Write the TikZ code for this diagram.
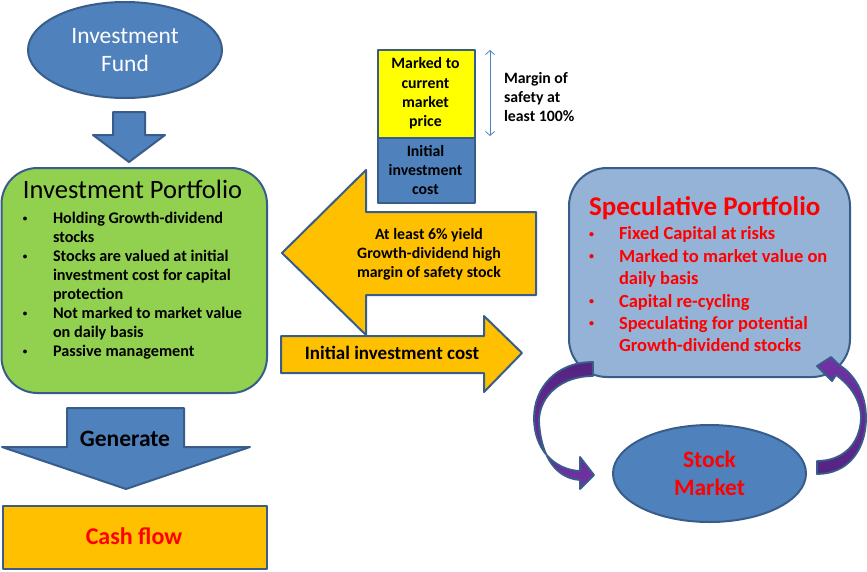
\documentclass[tikz,border=0pt]{standalone}
\usepackage{fontspec}
\setmainfont{Carlito}
\usetikzlibrary{shapes.geometric,arrows.meta}
\definecolor{bblue}{RGB}{79,129,189}
\definecolor{bord}{RGB}{56,93,138}
\definecolor{bgreen}{RGB}{146,208,80}
\definecolor{borange}{RGB}{255,192,0}
\definecolor{bspec}{RGB}{149,179,215}
\definecolor{byellow}{RGB}{255,255,0}
\definecolor{bred}{RGB}{255,0,0}
\definecolor{pdark}{RGB}{84,36,128}
\definecolor{plight}{RGB}{114,50,165}
\newcommand{\gbul}{\makebox[31pt][l]{\hspace{1pt}\raisebox{2.2pt}{\fontsize{9}{9}\selectfont\textbullet}}}
\newcommand{\gind}{\hspace*{31pt}}
\newcommand{\sbul}{\makebox[31pt][l]{\hspace{1pt}\raisebox{2.6pt}{\fontsize{10}{10}\selectfont\textbullet}}}
\newcommand{\sind}{\hspace*{31pt}}
\begin{document}
\begin{tikzpicture}[x=1pt,y=-1pt,
  shp/.style={draw=bord, line width=2pt, line join=round},
  txt/.style={inner sep=0pt, outer sep=0pt},
  small/.style={font=\fontsize{15.8}{19}\selectfont\bfseries}]
\useasboundingbox (0,0) rectangle (867,571);

% Investment Fund
\node[shp, ellipse, fill=bblue, minimum width=194pt, minimum height=96pt, inner sep=0pt,
  text=white, align=center, font=\fontsize{23.5}{28.7}\selectfont] (fund) at (125,50) {Investment\\Fund};

% down arrow
\draw[shp, fill=bblue] (113,112) -- (145,112) -- (145,135) -- (165,135) -- (129,162) -- (93,135) -- (113,135) -- cycle;

% Investment Portfolio box
\draw[shp, fill=bgreen, rounded corners=36pt] (1.5,168) rectangle (267,393);
\node[txt, anchor=base west, font=\fontsize{26.5}{30}\selectfont] (iptitle) at (23,198) {Investment Portfolio};
\node[txt, anchor=north west, align=left, font=\fontsize{16.2}{19}\selectfont\bfseries] (iplist) at (22,212.5) {%
\gbul Holding Growth-dividend\\
\gind stocks\\
\gbul Stocks are valued at initial\\
\gind investment cost for capital\\
\gind protection\\
\gbul Not marked to market value\\
\gind on daily basis\\
\gbul Passive management};

% Generate arrow
\draw[shp, fill=bblue] (67,408) -- (184,408) -- (184,447) -- (250,447) -- (126,489) -- (2,447) -- (67,447) -- cycle;
\node[txt, anchor=base, font=\fontsize{23.5}{27}\selectfont\bfseries] (gen) at (125,446) {Generate};

% Cash flow
\node[shp, fill=borange, minimum width=264.5pt, minimum height=63pt, anchor=north west, inner sep=0pt] (cash) at (1.5,505) {};
\node[txt, anchor=base, text=bred, font=\fontsize{24}{28}\selectfont\bfseries] (cashtxt) at (134,544) {Cash flow};

% stacked box
\node[shp, fill=byellow, minimum width=97pt, minimum height=88pt, anchor=north west, inner sep=0pt] (mkt) at (377,49) {};
\node[shp, fill=bblue, minimum width=97pt, minimum height=65pt, anchor=north west, inner sep=0pt] (cost) at (377,137) {};
\node[txt, align=center, font=\fontsize{15.8}{19.3}\selectfont\bfseries] (mkttxt) at (425.5,93.5) {Marked to\\current\\market\\price};
\node[txt, align=center, small] (costtxt) at (425.5,169.5) {Initial\\investment\\cost};

% margin double arrow
\coordinate (mtop) at (490,50);
\coordinate (mbot) at (490,136);
\draw[bblue, line width=0.8pt, {Straight Barb[length=4pt,width=9pt]}-{Straight Barb[length=4pt,width=9pt]}] (mtop) -- (mbot);
\node[txt, anchor=west, align=left, small] (margin) at (504,97.5) {Margin of\\safety at\\least 100\%};

% left orange arrow
\draw[shp, fill=borange] (282,253) -- (366,170) -- (366,212) -- (536,212) -- (536,295) -- (366,295) -- (366,335) -- cycle;
\node[txt, align=center, small] (yield) at (429,254) {At least 6\% yield\\Growth-dividend high\\margin of safety stock};

% right orange arrow
\draw[shp, fill=borange] (281,336) -- (484,336) -- (484,316) -- (522,353) -- (484,392) -- (484,373) -- (281,373) -- cycle;
\node[txt, anchor=base, font=\fontsize{19}{23}\selectfont\bfseries] (initxt) at (392,359) {Initial investment cost};

% Speculative portfolio
\draw[shp, fill=bspec, rounded corners=38pt] (569,168) rectangle (850,377);
\node[txt, anchor=base west, text=bred, font=\fontsize{27}{31}\selectfont\bfseries] (sptitle) at (589,215) {Speculative Portfolio};
\node[txt, anchor=north west, align=left, text=bred, font=\fontsize{18.5}{22.4}\selectfont\bfseries] (splist) at (588,227) {%
\sbul Fixed Capital at risks\\
\sbul Marked to market value on\\
\sind daily basis\\
\sbul Capital re-cycling\\
\sbul Speculating for potential\\
\sind Growth-dividend stocks};

% Stock market
\node[shp, ellipse, fill=bblue, minimum width=193pt, minimum height=97pt, inner sep=0pt,
  text=bred, align=center, font=\fontsize{23.5}{28.5}\selectfont\bfseries] (stock) at (709.5,473.5) {Stock\\Market};

% curved arrows
\shadedraw[shp, line width=1.8pt, top color=pdark, bottom color=plight]
  (593,362) .. controls (556,362) and (534,388) .. (534,418)
  .. controls (534,450) and (555,470) .. (580,471)
  -- (580,457) -- (594,475) -- (580,489) -- (580,480)
  .. controls (552,478) and (540,450) .. (539,420)
  .. controls (540,395) and (562,376) .. (593,376) -- cycle;
\shadedraw[shp, line width=1.8pt, top color=plight, bottom color=pdark]
  (817,474) .. controls (848,474) and (866,450) .. (866,418)
  .. controls (866,392) and (853,373) .. (839,365)
  -- (831,357) -- (817,366) -- (832,381) -- (836,375)
  .. controls (850,385) and (861,400) .. (861,418)
  .. controls (860,445) and (842,461) .. (817,461) -- cycle;
\end{tikzpicture}
\end{document}
